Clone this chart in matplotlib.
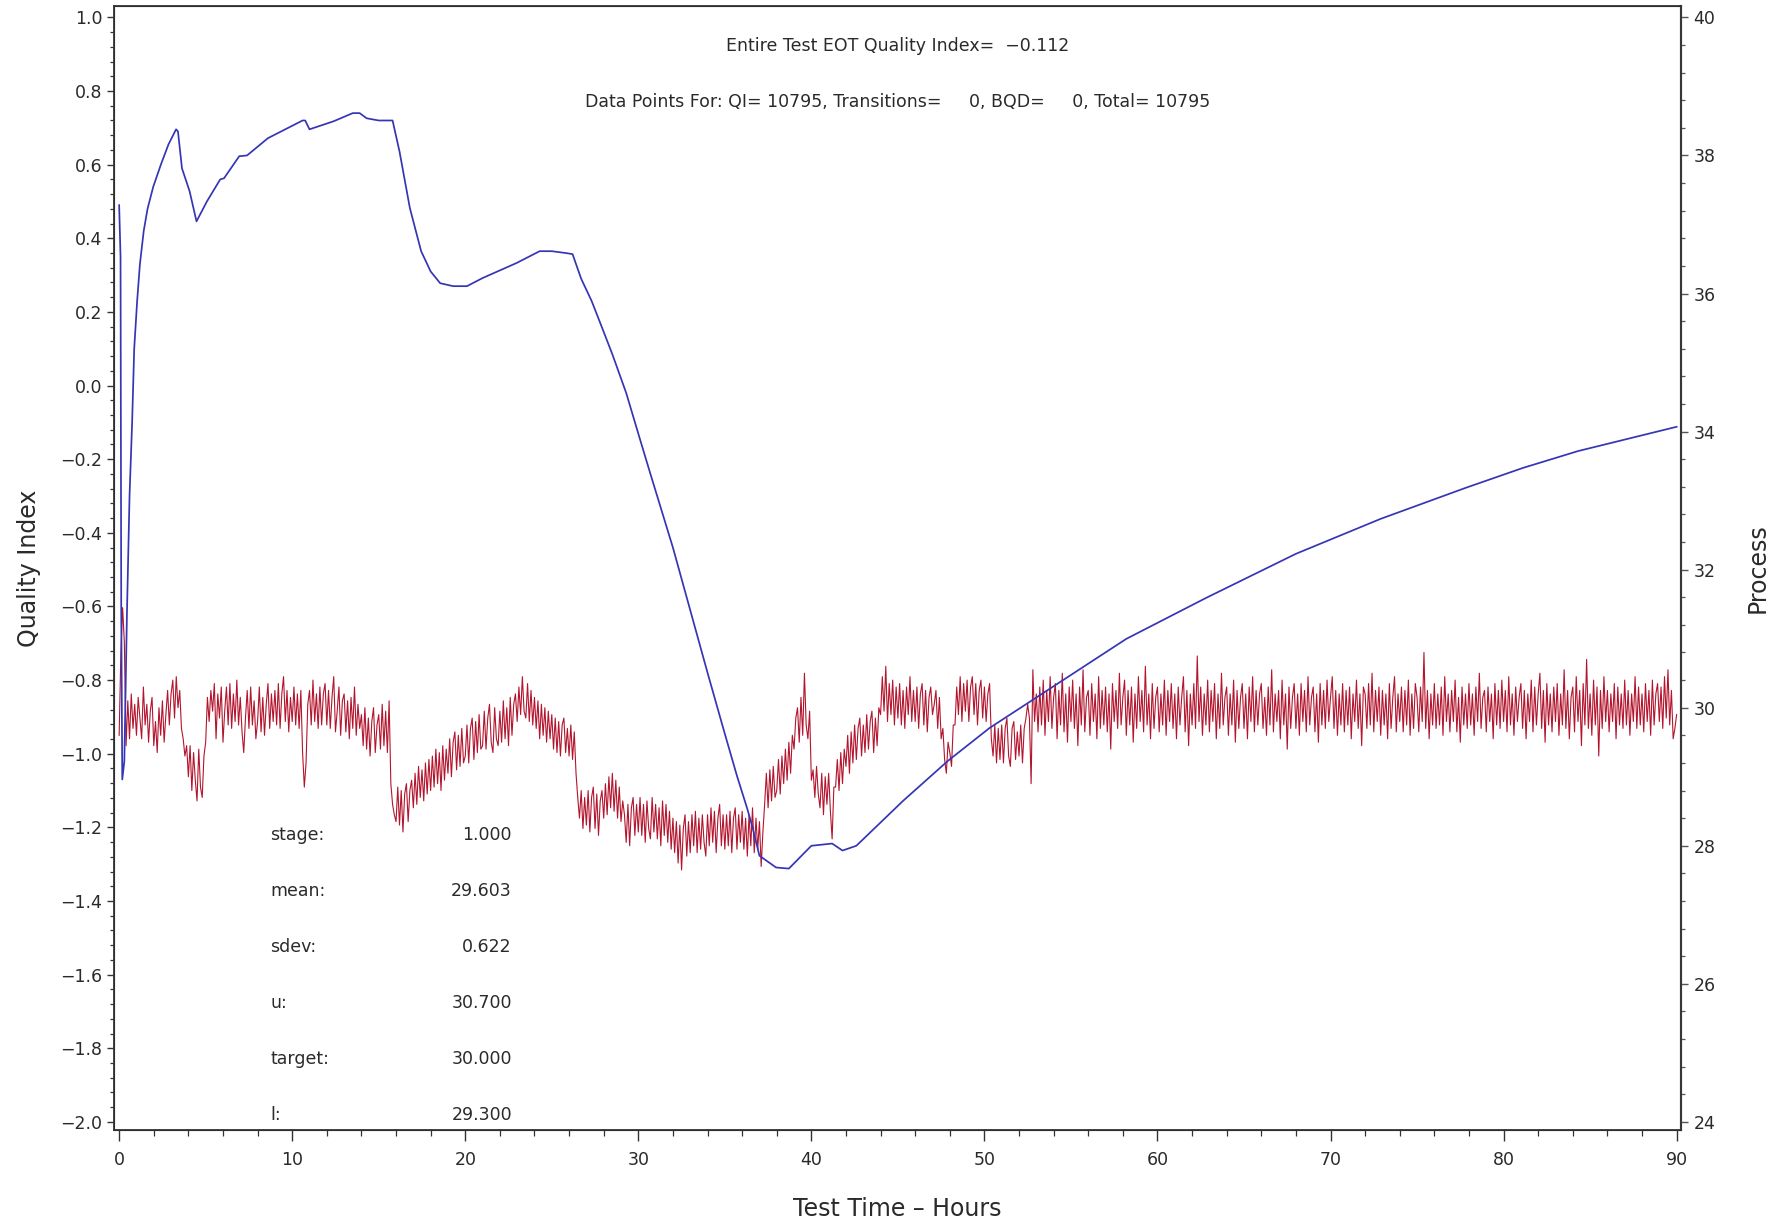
import numpy as np
import matplotlib.pyplot as plt
from matplotlib.ticker import MultipleLocator

# Quality index (blue, left axis): hour, value
qi_hours = [0.00, 0.08, 0.12, 0.18, 0.30, 0.45, 0.60, 0.75, 0.87, 1.04,
            1.20, 1.42, 1.64, 1.97, 2.41, 2.85, 3.29, 3.40, 3.63, 4.07,
            4.47, 5.07, 5.84, 6.06, 6.94, 7.39, 8.60, 10.60, 10.75, 11.00,
            12.40, 13.50, 13.90, 14.30, 15.00, 15.80, 16.20, 16.80, 17.45, 18.00,
            18.55, 19.30, 20.10, 21.00, 22.97, 24.30, 25.00, 25.80, 26.20, 26.70,
            27.30, 27.80, 28.50, 29.30, 30.06, 30.70, 32.00, 33.00, 34.00, 35.00,
            35.70, 36.30, 36.60, 37.00, 37.96, 38.70, 40.00, 41.20, 41.80, 42.60,
            45.30, 47.90, 50.30, 53.60, 58.20, 62.80, 68.00, 72.90, 77.80, 81.10,
            84.30, 90.00]
qi_values = [0.49, 0.35, -0.60, -1.07, -1.02, -0.62, -0.30, -0.10, 0.10, 0.23,
             0.33, 0.42, 0.48, 0.54, 0.60, 0.655, 0.696, 0.69, 0.59, 0.528,
             0.446, 0.50, 0.56, 0.563, 0.623, 0.625, 0.672, 0.72, 0.72, 0.696,
             0.718, 0.74, 0.74, 0.726, 0.72, 0.72, 0.636, 0.482, 0.365, 0.31,
             0.278, 0.27, 0.27, 0.292, 0.333, 0.365, 0.365, 0.36, 0.357, 0.29,
             0.23, 0.17, 0.085, -0.02, -0.14, -0.24, -0.44, -0.61, -0.78, -0.946,
             -1.06, -1.15, -1.20, -1.277, -1.309, -1.312, -1.25, -1.244, -1.263, -1.25,
             -1.128, -1.019, -0.93, -0.829, -0.688, -0.577, -0.457, -0.362, -0.278, -0.224,
             -0.178, -0.112]

# Process (red, right axis), one reading every 0.1 h, one row per hour
process_step = 0.1
process_values = [
    29.60, 30.80, 31.45, 30.95, 29.45, 30.10, 29.55, 30.20, 29.70, 30.05,
    29.60, 30.15, 29.85, 29.55, 30.30, 29.75, 30.05, 29.50, 29.95, 30.15,
    29.45, 29.80, 29.35, 30.00, 29.60, 30.10, 29.50, 29.90, 30.25, 29.75,
    30.20, 30.40, 29.85, 30.45, 30.00, 30.25, 29.70, 29.55, 29.30, 29.45,
    29.00, 29.45, 28.80, 29.35, 28.95, 28.65, 29.40, 28.85, 28.70, 29.30,
    29.50, 30.15, 29.80, 30.25, 29.95, 30.35, 29.55, 30.20, 29.85, 30.30,
    29.50, 29.95, 30.30, 29.75, 30.35, 29.70, 30.20, 29.80, 30.40, 29.75,
    30.15, 29.65, 29.35, 29.85, 30.25, 29.70, 30.30, 29.75, 30.10, 29.55,
    29.80, 30.30, 29.65, 30.15, 29.60, 30.05, 30.35, 29.70, 30.20, 29.80,
    30.25, 29.75, 30.35, 29.70, 30.20, 30.45, 29.80, 30.25, 29.65, 30.15,
    29.80, 30.30, 29.75, 30.20, 29.70, 30.25, 29.35, 28.85, 29.20, 30.05,
    30.25, 29.75, 30.40, 29.80, 30.20, 29.70, 30.30, 29.75, 30.20, 30.35,
    29.75, 30.25, 29.70, 30.15, 30.45, 29.65, 29.95, 30.30, 29.60, 30.10,
    30.20, 29.65, 30.10, 29.55, 30.15, 29.70, 30.30, 29.60, 30.05, 29.70,
    29.90, 29.45, 30.00, 29.40, 29.85, 29.30, 29.80, 30.00, 29.35, 29.75,
    29.90, 29.40, 30.05, 29.45, 29.95, 29.35, 30.10, 28.90, 28.60, 28.45,
    28.35, 28.85, 28.30, 28.80, 28.20, 28.75, 28.90, 28.35, 28.80, 28.95,
    28.55, 29.05, 28.60, 29.15, 28.70, 29.10, 28.65, 29.20, 28.75, 29.25,
    28.80, 29.30, 28.85, 29.40, 28.90, 29.35, 28.80, 29.45, 28.95, 29.40,
    29.05, 29.55, 29.00, 29.50, 29.65, 29.10, 29.60, 29.15, 29.70, 29.20,
    29.30, 29.75, 29.20, 29.70, 29.85, 29.25, 29.80, 29.35, 29.90, 29.40,
    29.45, 29.95, 29.40, 29.85, 30.05, 29.50, 29.35, 30.00, 29.55, 29.45,
    29.95, 29.50, 30.10, 29.55, 30.00, 29.45, 30.15, 29.60, 30.05, 30.20,
    29.80, 30.30, 29.90, 30.45, 29.95, 29.85, 30.35, 29.80, 30.25, 29.75,
    30.15, 29.70, 30.10, 29.55, 30.05, 29.60, 30.00, 29.50, 29.95, 29.55,
    29.90, 29.40, 29.85, 29.35, 29.80, 29.30, 29.75, 29.85, 29.35, 29.70,
    29.30, 29.75, 29.25, 29.65, 29.05, 28.70, 28.40, 28.80, 28.25, 28.70,
    28.30, 28.80, 28.20, 28.70, 28.85, 28.25, 28.75, 28.15, 28.65, 28.80,
    28.40, 28.90, 28.45, 29.00, 28.55, 29.05, 28.50, 28.95, 28.40, 28.85,
    28.35, 28.65, 28.45, 28.05, 28.60, 28.00, 28.55, 28.70, 28.15, 28.60,
    28.20, 28.70, 28.15, 28.60, 28.05, 28.65, 28.25, 28.10, 28.70, 28.20,
    28.60, 28.10, 28.55, 28.00, 28.65, 28.15, 28.60, 28.05, 28.50, 27.95,
    28.40, 27.90, 28.35, 27.75, 28.30, 27.65, 28.25, 28.45, 27.85, 28.35,
    27.90, 28.45, 28.00, 28.50, 27.90, 28.40, 27.95, 28.45, 28.05, 27.85,
    28.45, 28.00, 28.55, 28.05, 28.50, 27.90, 28.40, 28.60, 28.00, 28.45,
    27.95, 28.45, 28.00, 28.50, 27.90, 28.40, 28.55, 27.95, 28.45, 28.05,
    28.50, 27.95, 28.40, 27.85, 28.45, 28.00, 28.55, 27.90, 28.40, 27.95,
    28.35, 27.70, 28.20, 28.60, 29.05, 28.55, 29.10, 28.65, 29.15, 28.70,
    28.80, 29.25, 28.75, 29.30, 28.90, 29.40, 28.95, 29.50, 29.05, 29.60,
    29.40, 29.85, 30.00, 29.50, 30.15, 29.60, 30.50, 29.75, 29.55, 29.95,
    28.95, 29.10, 28.70, 29.15, 28.75, 28.55, 29.05, 28.45, 29.00, 28.60,
    29.05, 28.50, 28.10, 28.85, 28.85, 29.25, 28.80, 29.35, 28.90, 29.40,
    29.15, 29.60, 29.05, 29.65, 29.20, 29.75, 29.25, 29.70, 29.85, 29.30,
    29.75, 29.35, 29.90, 29.40, 29.80, 29.95, 29.35, 29.85, 29.45, 30.00,
    29.90, 30.45, 29.95, 30.60, 29.80, 30.35, 29.90, 30.40, 29.75, 30.30,
    29.85, 30.35, 29.75, 30.25, 29.70, 30.30, 29.90, 30.45, 29.80, 30.25,
    29.80, 30.30, 29.70, 30.20, 30.35, 29.75, 30.25, 29.65, 30.15, 30.30,
    29.90, 30.05, 30.25, 29.70, 30.15, 29.55, 29.70, 29.25, 29.05, 29.50,
    29.35, 29.15, 29.75, 29.75, 30.30, 29.90, 30.45, 29.80, 30.35, 29.95,
    30.40, 29.80, 30.30, 30.45, 29.90, 30.35, 29.75, 30.25, 30.40, 29.85,
    30.30, 29.80, 30.20, 30.35, 29.55, 29.30, 29.75, 29.20, 29.70, 29.25,
    29.75, 29.20, 29.70, 29.85, 29.30, 29.15, 29.70, 29.80, 29.25, 29.65,
    29.30, 29.75, 29.20, 29.70, 29.85, 30.05, 29.85, 28.90, 30.55, 29.80,
    30.20, 29.65, 30.30, 29.75, 30.40, 29.60, 30.25, 29.80, 30.45, 29.70,
    30.15, 30.35, 29.55, 30.25, 29.75, 30.50, 29.65, 30.20, 29.50, 30.30,
    29.80, 30.40, 29.70, 30.20, 29.45, 30.30, 29.75, 30.55, 29.65, 30.15,
    30.25, 29.60, 30.35, 29.80, 30.20, 29.55, 30.45, 29.70, 30.25, 29.75,
    30.30, 29.65, 30.20, 29.40, 30.35, 29.80, 30.25, 29.70, 30.50, 29.75,
    30.15, 30.40, 29.60, 30.25, 29.75, 30.30, 29.50, 30.20, 29.70, 30.45,
    29.80, 30.25, 29.65, 30.60, 29.75, 30.20, 29.55, 30.35, 29.70, 30.15,
    30.30, 29.65, 30.20, 29.75, 30.40, 29.60, 30.25, 29.80, 30.35, 29.70,
    30.20, 29.55, 30.30, 29.75, 30.15, 30.45, 29.65, 30.25, 29.45, 30.20,
    29.75, 30.35, 29.70, 30.75, 29.80, 30.30, 29.60, 30.20, 29.75, 30.40,
    29.65, 30.25, 29.80, 30.35, 29.55, 30.20, 29.70, 30.50, 29.75, 30.15,
    30.30, 29.60, 30.20, 29.75, 30.40, 29.50, 30.25, 29.70, 30.15, 30.35,
    29.70, 30.20, 29.55, 30.30, 29.80, 30.45, 29.65, 30.25, 29.75, 30.20,
    30.35, 29.70, 30.15, 29.60, 30.30, 29.75, 30.55, 29.65, 30.20, 29.80,
    30.25, 29.55, 30.40, 29.75, 30.20, 29.40, 30.30, 29.70, 30.15, 30.35,
    29.70, 30.20, 29.60, 30.35, 29.80, 30.25, 29.65, 30.45, 29.75, 30.15,
    30.30, 29.65, 30.20, 29.50, 30.35, 29.75, 30.25, 29.70, 30.40, 29.80,
    30.15, 30.45, 29.70, 30.25, 29.60, 30.20, 29.75, 30.35, 29.65, 30.25,
    29.75, 30.30, 29.55, 30.20, 29.80, 30.40, 29.70, 30.20, 29.45, 30.30,
    30.20, 29.70, 30.35, 29.75, 30.50, 29.65, 30.25, 29.80, 30.30, 29.60,
    30.25, 29.75, 30.20, 29.55, 30.35, 29.70, 30.15, 30.45, 29.65, 30.20,
    29.80, 30.30, 29.65, 30.25, 29.75, 30.40, 29.60, 30.20, 29.70, 30.35,
    30.15, 29.65, 30.30, 29.80, 30.80, 29.70, 30.25, 29.55, 30.20, 29.75,
    30.35, 29.70, 30.20, 29.75, 30.30, 29.60, 30.45, 29.80, 30.20, 29.65,
    30.25, 29.80, 30.40, 29.65, 30.15, 29.50, 30.30, 29.75, 30.20, 29.70,
    30.35, 29.75, 30.20, 29.60, 30.30, 29.80, 30.50, 29.70, 30.15, 30.25,
    29.65, 30.30, 29.80, 30.20, 29.55, 30.35, 29.75, 30.25, 29.70, 30.40,
    29.80, 30.25, 29.65, 30.45, 29.75, 30.20, 29.60, 30.30, 29.80, 30.15,
    30.35, 29.70, 30.25, 29.55, 30.20, 29.80, 30.40, 29.65, 30.30, 29.75,
    30.20, 30.50, 29.70, 30.25, 29.50, 30.35, 29.75, 30.20, 29.65, 30.30,
    29.80, 30.35, 29.60, 30.20, 29.75, 30.55, 29.70, 30.25, 29.55, 30.15,
    30.30, 29.65, 30.45, 29.80, 30.25, 29.45, 30.35, 29.75, 30.70, 29.70,
    30.20, 29.60, 30.40, 29.75, 30.30, 29.30, 30.25, 29.70, 30.45, 29.80,
    30.25, 29.65, 30.20, 29.80, 30.35, 29.55, 30.30, 29.75, 30.20, 29.70,
    30.40, 29.75, 30.25, 29.60, 30.20, 29.80, 30.45, 29.70, 30.30, 29.75,
    30.20, 29.65, 30.35, 29.80, 30.25, 29.60, 30.40, 29.75, 30.20, 30.35,
    29.80, 30.30, 29.70, 30.45, 29.85, 30.55, 29.75, 30.25, 29.55, 29.70,
    29.90,
]
process_hours = np.arange(len(process_values)) * process_step

stat_names = ['stage:', 'mean:', 'sdev:', 'u:', 'target:', 'l:']
stat_values = ['1.000', '29.603', '0.622', '30.700', '30.000', '29.300']
stat_rows = [-1.220, -1.372, -1.524, -1.678, -1.830, -1.982]

title1 = 'Entire Test EOT Quality Index=  \u22120.112'
title2 = 'Data Points For: QI= 10795, Transitions=     0, BQD=     0, Total= 10795'

TXT = '#2a2a2a'
plt.rcParams['font.family'] = 'DejaVu Sans'

fig = plt.figure(figsize=(17.89, 12.22), dpi=100)
ax = fig.add_axes([0.0637, 0.0753, 0.8759, 0.9198])
ax2 = ax.twinx()
ax.set_zorder(ax2.get_zorder() + 1)
ax.patch.set_visible(False)

ax2.plot(process_hours, process_values, color='#b3152e', lw=0.8)
ax.plot(qi_hours, qi_values, color='#3535b5', lw=1.25)

ax.set_xlim(-0.3, 90.25)
ax.set_ylim(-2.022, 1.031)
ax2.set_ylim(23.883, 40.165)

ax.xaxis.set_major_locator(MultipleLocator(10))
ax.xaxis.set_minor_locator(MultipleLocator(2))
ax.yaxis.set_major_locator(MultipleLocator(0.2))
ax.yaxis.set_minor_locator(MultipleLocator(0.04))
ax2.yaxis.set_major_locator(MultipleLocator(2))
ax2.yaxis.set_minor_locator(MultipleLocator(0.4))
ax.yaxis.set_major_formatter(plt.FuncFormatter(lambda v, p: f'{v:.1f}'.replace('-', '\u2212')))

ax.tick_params(axis='y', which='major', length=5, width=1, pad=3.5,
               labelsize=12.5, colors='#333333', labelcolor=TXT)
ax.tick_params(axis='y', which='minor', length=3, width=0.9, colors='#333333')
ax.tick_params(axis='x', which='major', length=8, width=1, pad=7,
               labelsize=12.5, colors='#333333', labelcolor=TXT)
ax.tick_params(axis='x', which='minor', length=4, width=0.9, colors='#333333')
ax2.tick_params(axis='y', which='major', length=5, width=1, pad=4,
                labelsize=12.5, colors='#555555', labelcolor=TXT)
ax2.tick_params(axis='y', which='minor', length=3, width=0.9, colors='#555555')

for sp in ax.spines.values():
    sp.set_color('#333333')
    sp.set_linewidth(1.3)
ax2.spines['right'].set_color('#666666')
ax2.spines['right'].set_linewidth(1.6)

ax.set_xlabel('Test Time \u2013 Hours', fontsize=17, color=TXT, labelpad=20)
ax.set_ylabel('Quality Index', fontsize=17, color=TXT, labelpad=14)
ax2.set_ylabel('Process', fontsize=17, color=TXT, labelpad=22)

ax.text(0.5, 0.9644, title1, transform=ax.transAxes, ha='center', va='center',
        fontsize=12.5, color=TXT)
ax.text(0.5, 0.9146, title2, transform=ax.transAxes, ha='center', va='center',
        fontsize=12.5, color=TXT)

for name, val, yv in zip(stat_names, stat_values, stat_rows):
    ax.text(8.72, yv, name, ha='left', va='center', fontsize=12.5, color=TXT)
    ax.text(22.7, yv, val, ha='right', va='center', fontsize=12.5, color=TXT)

fig.savefig('out.png', dpi=100)
